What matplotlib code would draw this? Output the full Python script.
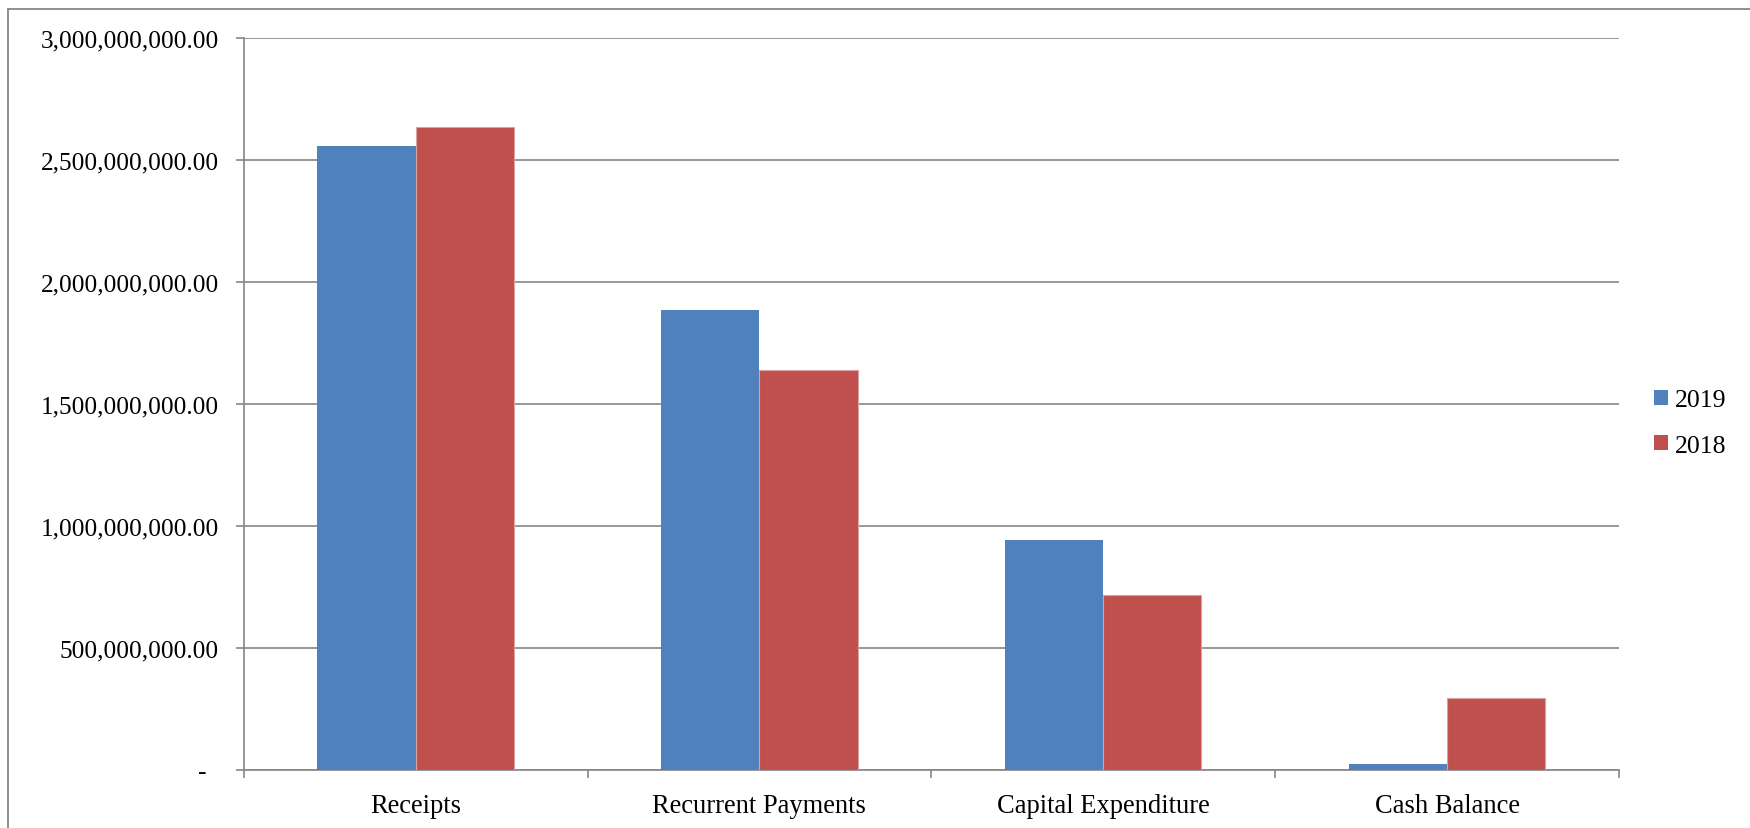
import matplotlib
matplotlib.use("Agg")
import matplotlib.pyplot as plt
import numpy as np
from matplotlib.patches import Patch
from matplotlib.lines import Line2D
from matplotlib.ticker import FuncFormatter, FixedLocator

categories = ["Receipts", "Recurrent Payments", "Capital Expenditure", "Cash Balance"]
series_names = ["2019", "2018"]
values_2019 = [2.556e9, 1.883e9, 0.940e9, 0.025e9]
values_2018 = [2.634e9, 1.640e9, 0.716e9, 0.294e9]
y_ticks = [0, 5e8, 1e9, 1.5e9, 2e9, 2.5e9, 3e9]

blue = "#4F81BD"
red = "#C0504D"
grid_gray = "#868686"

plt.rcParams['font.family'] = ['Liberation Serif', 'DejaVu Serif']

W, H = 1750, 829
fig = plt.figure(figsize=(W / 100, H / 100), dpi=100)
ax = fig.add_axes([243.7 / W, 1 - 770.7 / H, (1619 - 243.7) / W, (770.7 - 39) / H])

x = np.arange(len(categories))
bw = 1 / 3.5
ax.bar(x - bw / 2, values_2019, bw, color=blue, linewidth=0, zorder=3)
ax.bar(x + bw / 2, values_2018, bw, color=red, edgecolor="#D9A3A1", linewidth=0.8, zorder=3)

ax.set_xlim(-0.5, len(categories) - 0.5)
ax.set_ylim(0, 3e9)
ax.set_yticks(y_ticks)

def fmt(v, pos):
    if v == 0:
        return "-  "
    return "{:,.2f}".format(v)

ax.yaxis.set_major_formatter(FuncFormatter(fmt))
ax.xaxis.set_major_locator(FixedLocator(np.arange(-0.5, len(categories), 1.0)))
ax.xaxis.set_major_formatter(FuncFormatter(lambda v, p: ""))
ax.xaxis.set_minor_locator(FixedLocator(x))
ax.set_xticks(x, categories, minor=True)
ax.tick_params(axis='x', which='minor', length=0, pad=17, labelsize=19.1)
ax.tick_params(axis='x', which='major', length=5.8, width=1.2, color=grid_gray, direction='out')
ax.tick_params(axis='y', length=5.8, width=1.2, color=grid_gray, direction='out', pad=12, labelsize=18.3)

ax.yaxis.grid(True, color=grid_gray, linewidth=1.2, zorder=0)
ax.set_axisbelow(True)
for s in ['top', 'right']:
    ax.spines[s].set_visible(False)
for s in ['left', 'bottom']:
    ax.spines[s].set_color(grid_gray)
    ax.spines[s].set_linewidth(1.2)

handles = [Patch(facecolor=blue, edgecolor='none'), Patch(facecolor=red, edgecolor='none')]
fig.legend(handles, series_names, loc='center left', bbox_to_anchor=(1654 / W, 1 - 424 / H),
           frameon=False, fontsize=18.5, handlelength=0.55, handleheight=0.55,
           handletextpad=0.25, labelspacing=0.9, borderaxespad=0, borderpad=0)

# outer chart border (left and top)
fig.add_artist(Line2D([8 / W, 8 / W], [0, 1 - 10 / H], color="#878787", linewidth=1.3,
                      transform=fig.transFigure))
fig.add_artist(Line2D([8 / W, 1], [1 - 10 / H, 1 - 10 / H], color="#878787", linewidth=1.3,
                      transform=fig.transFigure))

fig.savefig("out.png", dpi=100)
